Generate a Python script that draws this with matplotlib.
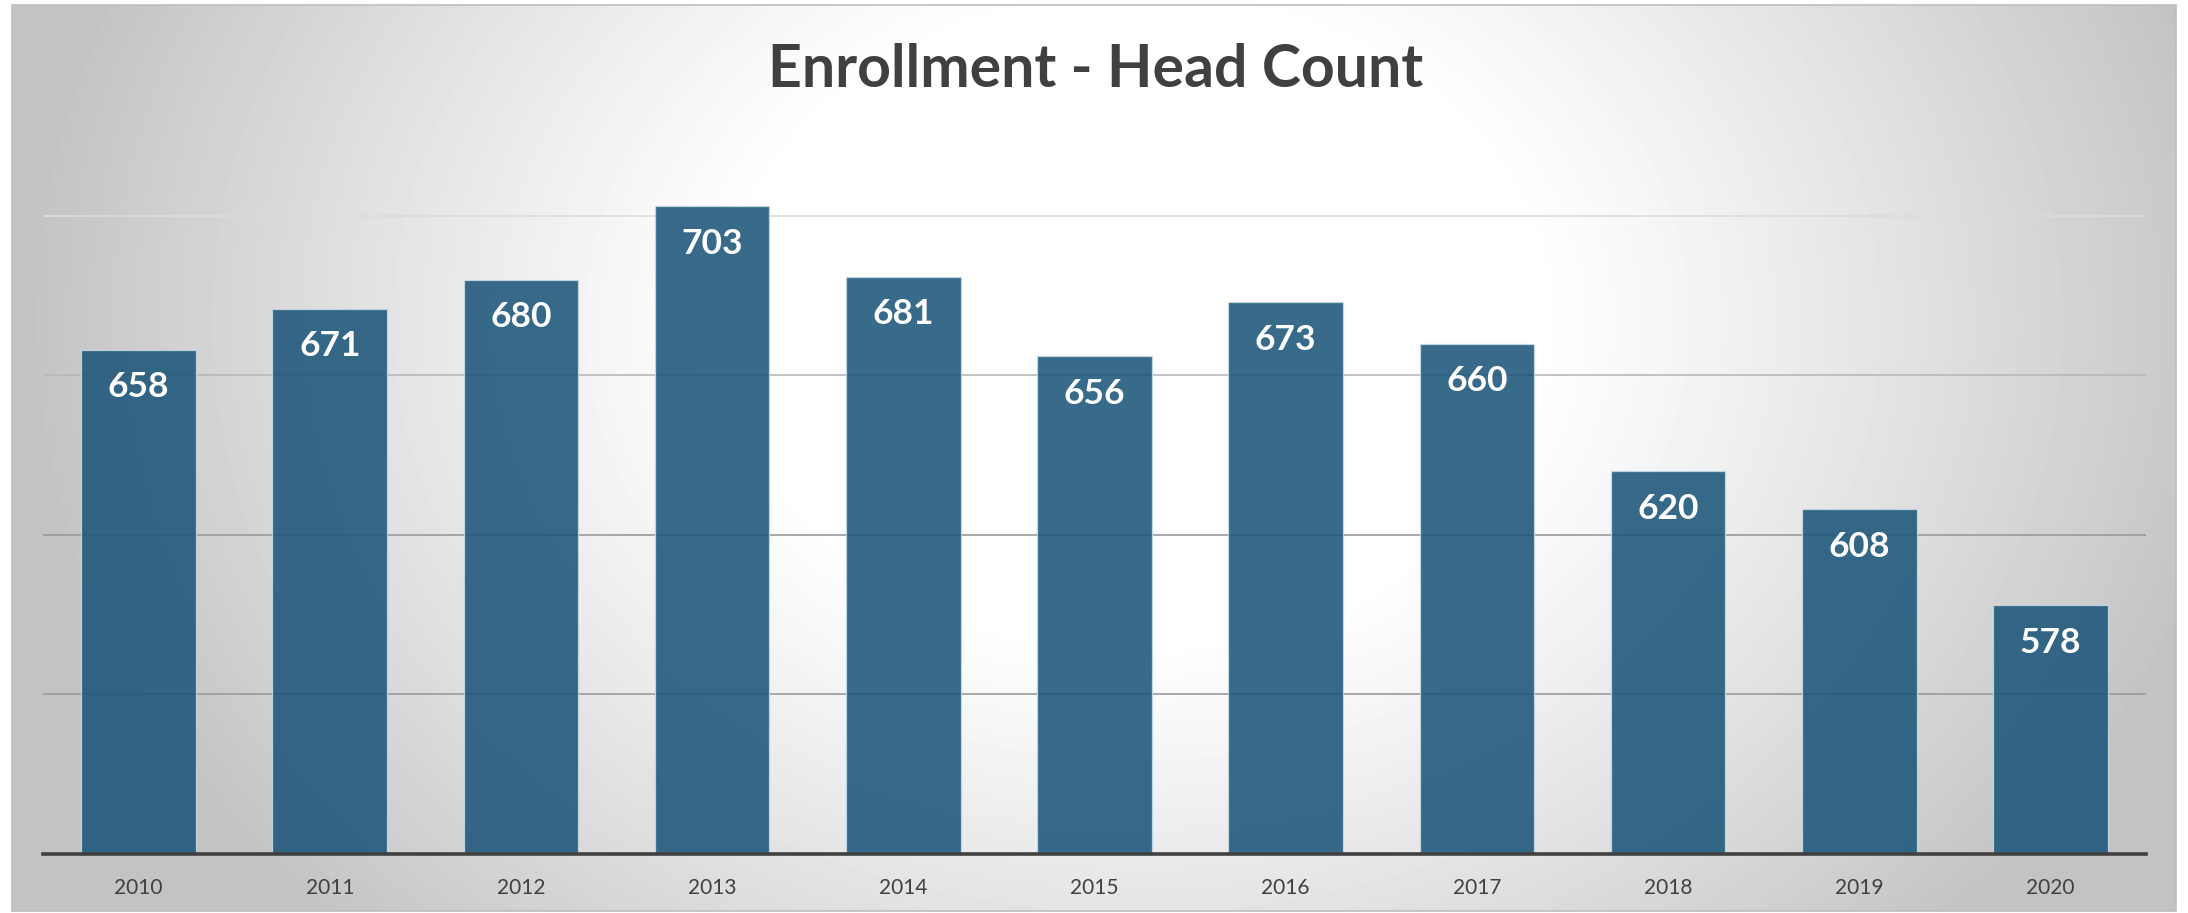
import numpy as np
import matplotlib
matplotlib.use("Agg")
import matplotlib.pyplot as plt
from matplotlib.patches import Rectangle

years = ["2010", "2011", "2012", "2013", "2014", "2015", "2016", "2017", "2018", "2019", "2020"]
head_count = [658, 671, 680, 703, 681, 656, 673, 660, 620, 608, 578]
grid_values = [550, 600, 650, 700]
grid_colors = ["#9A9A9A", "#9A9A9A", "#B8B8B8", "#DCDCDC"]

W, H, DPI = 2188, 913, 100
fig = plt.figure(figsize=(W / DPI, H / DPI), dpi=DPI)
fig.patch.set_facecolor("white")

# Chart panel with a soft radial gradient (white centre, grey edges)
px0, py0, px1, py1 = 12, 5, 2176, 911
bg = fig.add_axes([px0 / W, 1 - py1 / H, (px1 - px0) / W, (py1 - py0) / H], zorder=0)
nx, ny = 600, 260
xx, yy = np.meshgrid(np.linspace(0, 1, nx), np.linspace(0, 1, ny))
r = np.sqrt(((xx - 0.52) / 0.50) ** 2 + ((yy - 0.35) / 0.95) ** 2)
t = np.clip((r - 0.37) / 0.66, 0, 1)
shade = 1 - 0.235 * t ** 1.1
bg.imshow(shade, cmap="gray", vmin=0, vmax=1, aspect="auto", extent=[0, 1, 1, 0],
          interpolation="bicubic")
bg.set_xlim(0, 1)
bg.set_ylim(1, 0)
bg.axis("off")
fig.add_artist(Rectangle((px0 / W, 1 - py1 / H), (px1 - px0) / W, (py1 - py0) / H,
                         transform=fig.transFigure, fill=False, edgecolor="#BDBDBD",
                         linewidth=1.2, zorder=1))

# Main plotting area
ax_left, ax_right = 43 / W, 2146 / W
ax_bottom = (H - 854) / H
ax_top = (H - 56.5) / H
ax = fig.add_axes([ax_left, ax_bottom, ax_right - ax_left, ax_top - ax_bottom], zorder=2)
ax.patch.set_alpha(0)

x = np.arange(len(years))
ax.set_xlim(-0.5, len(years) - 0.5)
ax.set_ylim(500, 750)

for gv, gc in zip(grid_values, grid_colors):
    ax.axhline(gv, color=gc, linewidth=1.2, zorder=1)

bars = ax.bar(x, head_count, width=0.6, bottom=0, color="#1C567A", alpha=0.88,
              edgecolor="#C9D9E6", linewidth=0.9, zorder=2)

for xi, v in zip(x, head_count):
    ax.annotate(str(v), (xi, v), xytext=(0, -27), textcoords="offset points",
                ha="center", va="center", color="white", fontsize=25.5,
                fontweight="bold", family="Lato", zorder=4)

for s in ["top", "left", "right"]:
    ax.spines[s].set_visible(False)
ax.spines["bottom"].set_color("#404040")
ax.spines["bottom"].set_linewidth(2.6)
ax.spines["bottom"].set_zorder(5)

ax.set_yticks([])
ax.set_xticks(x)
ax.set_xticklabels(years, family="Lato", fontsize=15, color="#404040")
ax.tick_params(axis="x", length=0, pad=17)

fig.text(1096 / W, 1 - 87 / H, "Enrollment - Head Count", ha="center", va="baseline",
         fontsize=42.5, fontweight="bold", family="Lato", color="#404040")

fig.savefig("out.png", dpi=DPI)
